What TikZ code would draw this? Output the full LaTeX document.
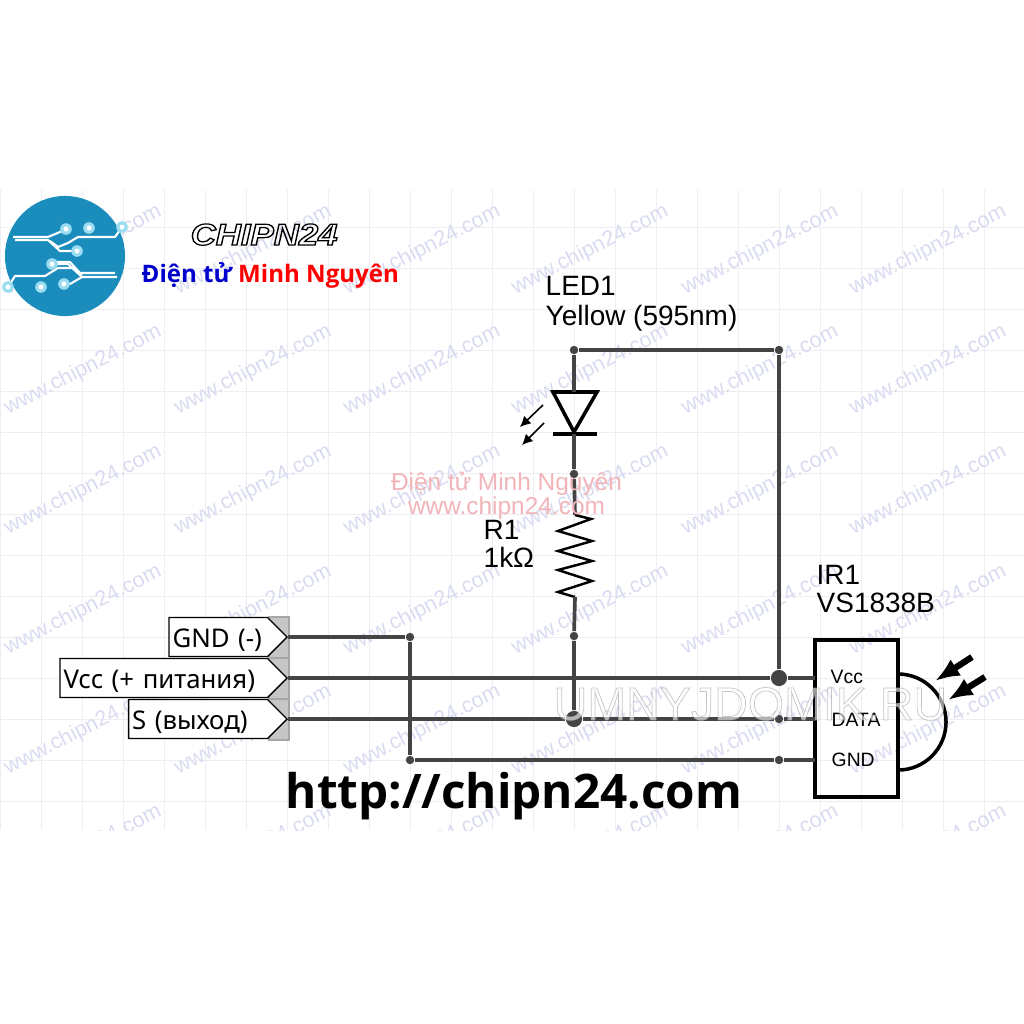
\documentclass[tikz,border=0pt]{standalone}
\usepackage{fontspec}
\usepackage{color}
\usepackage{tikz}
\usetikzlibrary{arrows.meta,shapes.symbols}
\setmainfont{Liberation Sans}
\newfontfamily\notofont{Noto Sans}
\newfontfamily\openfont{Open Sans}
\definecolor{wire}{HTML}{444444}
\definecolor{gridline}{HTML}{EEEEF2}
\definecolor{stamp}{HTML}{D9DCF0}
\definecolor{logoblue}{HTML}{1A8DBD}
\definecolor{logodot}{HTML}{9ADCF0}
\definecolor{headgray}{HTML}{C6C6C6}
\definecolor{redstamp}{HTML}{F2B4B8}
\tikzstyle{junction}=[circle, draw=none, fill=wire, inner sep=0, minimum size=2.4pt]
\tikzstyle{bigjunction}=[junction, minimum size=4.6pt]
\tikzstyle{wired}=[draw=wire, line width=1.05pt]
\tikzstyle{label}=[inner sep=0, anchor=base west, font=\fontsize{7.95}{9}\selectfont]
\tikzstyle{pinlabel}=[inner sep=0, anchor=base west, font=\fontsize{5.5}{6}\selectfont]
\tikzstyle{conn}=[signal, signal to=east, signal pointer angle=90, draw=black, fill=white, line width=0.4pt, anchor=east, inner xsep=1pt, inner ysep=0, minimum height=11.1pt, text height=7.5pt, text depth=1.5pt, align=left, font=\notofont\fontsize{7.32}{8}\selectfont]
\tikzstyle{headcell}=[draw=gray!70, fill=headgray, line width=0.5pt, minimum width=0.2cm, minimum height=0.41cm, inner sep=0]
\tikzstyle{stampmark}=[inner sep=0, rotate=27, text=stamp, font=\fontsize{6.1}{7}\selectfont]
\tikzstyle{trace}=[draw=white, line width=0.6pt, line join=round]
\tikzstyle{padmark}=[circle, fill=logodot, draw=none, inner sep=0, minimum size=3.3pt]

\begin{document}
\begin{tikzpicture}[x=0.01cm, y=-0.01cm]
	\useasboundingbox (0,0) rectangle (1024,1024);
	\begin{scope}
		\clip (0,190) rectangle (1024,830);
		\foreach \gx in {0,41,...,1024} \path[draw=gridline, line width=0.25pt] (\gx,190) -- (\gx,830);
		\foreach \gy in {227,268,...,830} \path[draw=gridline, line width=0.25pt] (0,\gy) -- (1024,\gy);
		\foreach \sx in {83,253,422,590,760,928}
			\foreach \sy in {250,370,490,610,730,850}
				\node[stampmark] at (\sx,\sy) {www.chipn24.com};
	\end{scope}

	% logo
	\fill[logoblue] (65,256) circle (0.6cm);
	\path[trace] (13,237) -- (48,237) -- (60,232) -- (66,229);
	\path[trace] (15,240) -- (48,240) -- (60,251) -- (77,251);
	\path[trace] (50,241) -- (58,247) -- (68,243) -- (78,237) -- (115,237) -- (122,227);
	\path[trace] (117,277) -- (82,277) -- (68,264) -- (52,264);
	\path[trace] (115,273) -- (80,273) -- (70,262) -- (52,262);
	\path[trace] (8,287) -- (15,276) -- (45,276) -- (58,268) -- (73,268) -- (82,275);
	\path[trace] (64,284) -- (70,284) -- (82,277);
	\foreach \px/\py in {66/229,89/228,122/227,77/251,52/264,64/284,41/287,8/287} {
		\node[padmark] at (\px,\py) {};
		\fill[white] (\px,\py) circle (0.025cm);
	}
	\node[inner sep=0, anchor=base west, font=\bfseries\itshape\fontsize{8.6}{9}\selectfont] (brand) at (190,245) {\scalebox{1.15}[1]{\special{pdf:code 1 Tr 0.35 w}CHIPN24\special{pdf:code 0 Tr}}};
	\node[inner sep=0, anchor=base west, font=\openfont\bfseries\fontsize{6.85}{8}\selectfont] (shop) at (141,282) {\textcolor{blue!80!black}{Điện tử} \textcolor{red}{Minh Nguyên}};

	% connector
	\node[headcell] (headgnd) at (279,637.5) {};
	\node[headcell] (headvcc) at (279,678.5) {};
	\node[headcell] (headsig) at (279,719.5) {};
	\node[conn, text width=26pt] (gnd) at (288,637) {GND (-)};
	\node[conn, text width=57pt] (vcc) at (288,678) {Vcc (+ питания)};
	\node[conn, text width=37.5pt] (sig) at (288,719) {S (выход)};

	% junctions
	\node[junction] (topleft) at (574,350) {};
	\node[junction] (topright) at (779,350) {};
	\node[junction] (ledbot) at (574,474) {};
	\node[junction] (resbot) at (574,636) {};
	\node[bigjunction] (sigdot) at (574,719) {};
	\node[bigjunction] (vccdot) at (779,678) {};
	\node[junction] (datadot) at (779,719) {};
	\node[junction] (gnddot) at (779,760) {};
	\node[junction] (gnda) at (410,637) {};
	\node[junction] (gndb) at (410,760) {};

	% sensor
	\node[draw=black, line width=1.15pt, minimum width=0.83cm, minimum height=1.57cm, inner sep=0] (ir) at (856.5,718.5) {};
	\coordinate (pinv) at (815,678);
	\coordinate (pind) at (815,719);
	\coordinate (ping) at (815,760);
	\coordinate (domea) at (898,674);
	\path[draw=black, line width=1pt] (domea) arc[start angle=90, end angle=-90, radius=0.48cm];
	\coordinate (raya) at (972,657);
	\coordinate (rayb) at (935,681);
	\coordinate (rayc) at (985,677);
	\coordinate (rayd) at (948,700);
	\path[draw=black, line width=1.8pt, -{Latex[length=7pt,width=5.5pt]}] (raya) -- (rayb);
	\path[draw=black, line width=1.8pt, -{Latex[length=7pt,width=5.5pt]}] (rayc) -- (rayd);

	% led
	\coordinate (ledin) at (574,392);
	\coordinate (ledout) at (574,434);
	\path[draw=black, line width=1pt, line join=miter] (553,392) -- (597,392) -- (574,432) -- cycle;
	\path[draw=black, line width=1pt] (553,434) -- (597,434);
	\path[draw=black, line width=0.45pt, -{Latex[length=3pt,width=3pt]}] (543,405) -- (520,427);
	\path[draw=black, line width=0.45pt, -{Latex[length=3pt,width=3pt]}] (544,423) -- (522,445);

	% resistor
	\coordinate (resin) at (575,515);
	\coordinate (resout) at (575,597);
	\path[draw=black, line width=0.7pt] (resin) -- (591,519) -- (558,531) -- (592,541) -- (558,551) -- (592,561) -- (558,570) -- (592,581) -- (558,592) -- (resout);

	% wires
	\path[wired] (gnd.east) -- (gnda) -- (gndb) -- (gnddot) -- (ping);
	\path[wired] (vcc.east) -- (vccdot) -- (pinv);
	\path[wired] (sig.east) -- (sigdot) -- (datadot) -- (pind);
	\path[wired] (topright) -- (topleft) -- (ledin);
	\path[wired] (topright) -- (vccdot);
	\path[wired] (ledout) -- (ledbot) -- (resin);
	\path[wired] (resout) -- (resbot) -- (sigdot);

	% labels
	\node[label] (ledname) at (545,295) {LED1};
	\node[label] (ledtype) at (545,325) {Yellow (595nm)};
	\node[label] (resname) at (483,539) {R1};
	\node[label] (resval) at (483,567) {1kΩ};
	\node[label] (irname) at (816,584) {IR1};
	\node[label] (irtype) at (816,612) {VS1838B};
	\node[pinlabel] (vcclabel) at (830,683) {Vcc};
	\node[pinlabel] (datalabel) at (831,726) {DATA};
	\node[pinlabel] (gndlabel) at (831,766) {GND};
	\node[inner sep=0, align=center, text=redstamp, font=\fontsize{6.95}{6.9}\selectfont] (redmark) at (506.5,496) {Điện tử Minh Nguyên\\www.chipn24.com};
	\node[inner sep=0, anchor=base west, font=\openfont\bfseries\fontsize{13.55}{15}\selectfont] (site) at (285,808) {http://chipn24.com};
	\node[inner sep=0, anchor=base west, text=gray!75, text opacity=0.6, font=\fontsize{13.25}{15}\selectfont] (domik) at (553,720) {\special{pdf:code 2 Tr 0.2 w 1 g}UMNYJDOMIK.RU\special{pdf:code 0 Tr}};
\end{tikzpicture}
\end{document}
